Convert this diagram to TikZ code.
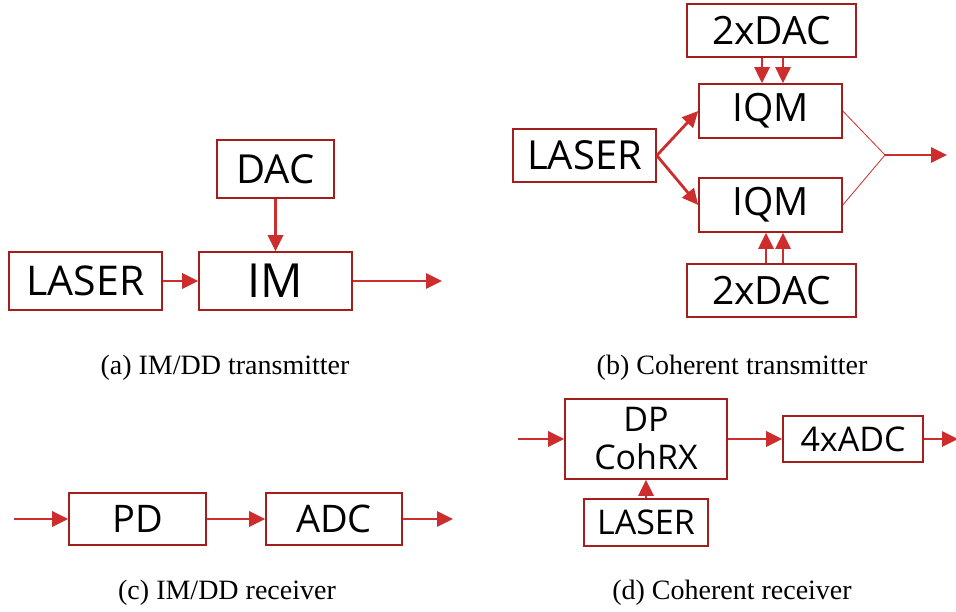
\documentclass[tikz,border=0pt]{standalone}
\usepackage{fontspec}
\newfontfamily\boxfont{Open Sans}
\newfontfamily\capfont{Liberation Serif}
\usetikzlibrary{arrows.meta}
\definecolor{boxred}{RGB}{165,30,30}
\definecolor{arrred}{RGB}{205,45,45}
\tikzset{
  blk/.style={draw=boxred, line width=1.6pt, fill=white, inner sep=0pt, font=\boxfont},
  arr/.style={draw=arrred, line width=2.8pt, -{Triangle[length=16pt,width=15pt]}},
  thinline/.style={draw=arrred, line width=0.8pt},
  captxt/.style={font=\capfont\fontsize{28}{32}\selectfont, inner sep=0pt}
}
\begin{document}
\begin{tikzpicture}[x=1pt,y=-1pt]
\useasboundingbox (0,0) rectangle (956,612);
% (a) IM/DD transmitter
\node[blk, minimum width=153pt, minimum height=58pt, font=\boxfont\fontsize{41}{46}\selectfont] (laserA) at (85.5,281) {LASER};
\node[blk, minimum width=153pt, minimum height=58pt, font=\boxfont\fontsize{47}{52}\selectfont] (im) at (275.5,281) {IM};
\node[blk, minimum width=117pt, minimum height=58pt, font=\boxfont\fontsize{40}{44}\selectfont] (dac) at (275.5,169) {DAC};
\coordinate (outA) at (442,281);
\draw[arr] (laserA) -- (im);
\draw[arr] (dac) -- (im);
\draw[arr] (im) -- (outA);
\node[captxt] (capA) at (225,368) {(a) IM/DD transmitter};
% (b) Coherent transmitter
\node[blk, minimum width=169pt, minimum height=53pt, font=\boxfont\fontsize{39}{44}\selectfont] (dacT) at (771.5,30.5) {2xDAC};
\node[blk, minimum width=143pt, minimum height=54pt, font=\boxfont\fontsize{39}{44}\selectfont] (iqmT) at (770.5,111) {IQM};
\node[blk, minimum width=143pt, minimum height=53pt, font=\boxfont\fontsize{40}{44}\selectfont] (laserB) at (584.5,155.5) {LASER};
\node[blk, minimum width=143pt, minimum height=54pt, font=\boxfont\fontsize{39}{44}\selectfont] (iqmB) at (770.5,205) {IQM};
\node[blk, minimum width=169pt, minimum height=53pt, font=\boxfont\fontsize{39}{44}\selectfont] (dacB) at (771.5,290.5) {2xDAC};
\draw[arr] (laserB.east) -- (iqmT.west);
\draw[arr] (laserB.east) -- (iqmB.west);
\draw[arr] (dacT.south -| 762,0) -- (iqmT.north -| 762,0);
\draw[arr] (dacT.south -| 783,0) -- (iqmT.north -| 783,0);
\draw[arr] (dacB.north -| 766,0) -- (iqmB.south -| 766,0);
\draw[arr] (dacB.north -| 783,0) -- (iqmB.south -| 783,0);
\coordinate (join) at (885,155);
\coordinate (outB) at (947,155);
\draw[thinline] (iqmT.east) -- (join) -- (iqmB.east);
\draw[arr] (join) -- (outB);
\node[captxt] (capB) at (732,368) {(b) Coherent transmitter};
% (c) IM/DD receiver
\coordinate (inC) at (14,519);
\node[blk, minimum width=137pt, minimum height=52pt, font=\boxfont\fontsize{38}{42}\selectfont] (pd) at (137.5,519) {PD};
\node[blk, minimum width=136pt, minimum height=52pt, font=\boxfont\fontsize{38}{42}\selectfont] (adc) at (334,519) {ADC};
\coordinate (outC) at (453,519);
\draw[arr] (inC) -- (pd);
\draw[arr] (pd) -- (adc);
\draw[arr] (adc) -- (outC);
\node[captxt] (capC) at (227,593) {(c) IM/DD receiver};
% (d) Coherent receiver
\coordinate (inD) at (518,439);
\node[blk, minimum width=162pt, minimum height=80pt, align=center, font=\boxfont\fontsize{34}{38}\selectfont] (coh) at (646,439) {DP\\CohRX};
\node[blk, minimum width=140pt, minimum height=46pt, font=\boxfont\fontsize{34}{38}\selectfont] (adcD) at (853,439) {4xADC};
\node[blk, minimum width=124pt, minimum height=47pt, font=\boxfont\fontsize{34}{38}\selectfont] (laserD) at (646,522.5) {LASER};
\coordinate (outD) at (958,439);
\draw[arr] (inD) -- (coh);
\draw[arr] (coh) -- (adcD);
\draw[arr] (adcD) -- (outD);
\draw[arr] (laserD) -- (coh);
\node[captxt] (capD) at (732,593) {(d) Coherent receiver};
\end{tikzpicture}
\end{document}
